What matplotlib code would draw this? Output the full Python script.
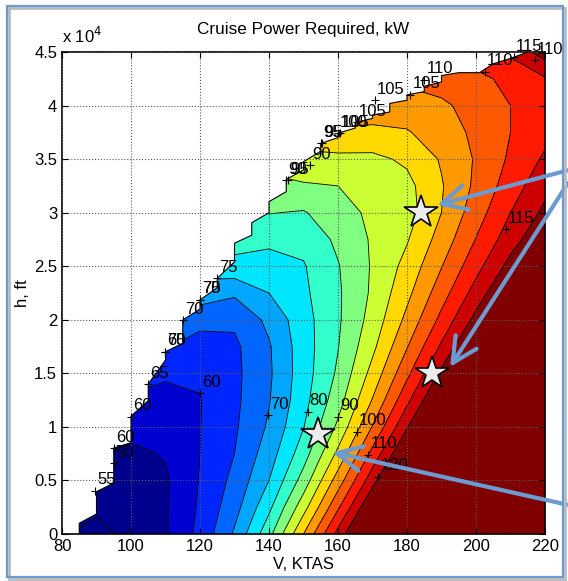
import matplotlib
matplotlib.use('Agg')
import matplotlib.pyplot as plt
from matplotlib.path import Path
from matplotlib.patches import PathPatch, Rectangle
from matplotlib.ticker import FuncFormatter

plt.rcParams['font.family'] = ['Liberation Sans', 'DejaVu Sans']

# grid of cruise power (kW)
speeds = [80, 90, 100, 110, 120, 130, 140, 150, 160, 170, 180, 190, 200, 210, 220]
alts = [0, 2500, 5000, 7500, 10000, 12500, 15000, 17500, 20000, 22500,
        25000, 27500, 30000, 32500, 35000, 37500, 40000, 42500, 45000]
power = [
    [50.5, 48.6, 51.0, 54.5, 61.4, 70.7, 83.4, 100.0, 116.7, 133.0, 151.0, 169.0, 187.0, 205.0, 223.0],
    [52.0, 50.8, 51.5, 54.5, 60.7, 68.1, 78.8, 93.0, 109.2, 125.6, 142.0, 159.0, 176.0, 193.0, 210.0],
    [53.0, 51.5, 52.0, 54.3, 60.3, 66.4, 75.0, 87.1, 102.4, 118.1, 134.0, 150.0, 166.0, 182.0, 198.0],
    [57.0, 55.5, 53.8, 55.4, 60.0, 65.0, 72.6, 82.7, 96.2, 111.6, 126.1, 140.5, 155.0, 169.5, 184.0],
    [60.0, 58.5, 56.8, 57.1, 59.9, 64.3, 70.7, 79.8, 91.0, 105.3, 119.6, 133.5, 147.5, 161.5, 175.5],
    [61.0, 60.0, 59.5, 59.1, 59.8, 63.9, 69.7, 78.3, 87.8, 100.3, 113.8, 126.9, 140.0, 153.0, 166.0],
    [63.0, 62.5, 61.5, 60.4, 60.6, 63.8, 69.2, 77.7, 85.8, 96.7, 108.8, 121.2, 133.0, 145.0, 157.0],
    [66.0, 66.0, 65.5, 65.3, 63.2, 64.0, 69.5, 77.7, 84.8, 93.8, 104.7, 115.8, 127.0, 138.0, 149.0],
    [69.0, 69.5, 70.0, 70.5, 66.3, 65.9, 71.2, 78.1, 84.3, 91.9, 101.3, 111.4, 121.6, 132.0, 142.0],
    [71.0, 71.5, 72.0, 72.5, 73.0, 70.8, 75.0, 79.0, 84.3, 90.8, 98.7, 107.8, 117.1, 126.5, 136.0],
    [74.0, 74.5, 75.0, 75.5, 77.0, 78.5, 77.8, 79.6, 84.7, 90.5, 96.6, 104.8, 113.3, 121.7, 130.0],
    [77.0, 77.5, 78.0, 78.5, 80.0, 82.0, 81.2, 81.5, 86.0, 90.6, 94.6, 102.1, 110.2, 117.8, 124.5],
    [80.0, 80.5, 81.0, 81.5, 82.5, 84.0, 85.2, 84.6, 88.0, 91.0, 92.8, 100.0, 107.7, 115.0, 121.2],
    [82.0, 82.5, 83.0, 84.0, 85.0, 86.5, 88.5, 89.4, 90.0, 92.2, 93.5, 99.6, 106.0, 112.5, 118.5],
    [86.0, 86.5, 87.0, 88.0, 89.0, 90.5, 92.0, 93.8, 93.7, 93.8, 95.9, 100.5, 105.5, 110.8, 115.8],
    [90.0, 90.5, 91.0, 92.0, 93.0, 94.5, 96.0, 97.5, 99.4, 98.8, 99.6, 102.6, 106.0, 110.0, 113.5],
    [94.0, 94.5, 95.0, 96.0, 97.0, 98.5, 100.0, 101.5, 102.5, 103.0, 102.8, 104.2, 106.7, 110.0, 113.0],
    [97.0, 97.5, 98.0, 99.0, 100.0, 101.0, 102.0, 103.0, 104.0, 105.0, 106.0, 107.0, 108.8, 111.2, 114.5],
    [100.0, 100.5, 101.0, 102.0, 103.0, 104.0, 105.0, 106.0, 107.0, 108.0, 109.0, 110.5, 112.5, 116.0, 122.5],
]
levels = [50, 55, 60, 65, 70, 75, 80, 85, 90, 95, 100, 105, 110, 115, 120]
band_colors = ['#00008A', '#00008F', '#0000D0', '#0026FF', '#0066FF', '#00A6FF',
               '#00E6FF', '#33FFCC', '#80FF80', '#CCFF33', '#FFD900', '#FF9900',
               '#FF5900', '#FF1A00', '#CC0000', '#800000']

# flight envelope edge (left / top)
env_v = [85, 85, 90, 90, 95, 95, 100, 100, 105, 105, 110, 110, 115, 115, 120, 120,
         125, 125, 130, 130, 135, 135, 140, 140, 145, 145, 150, 150, 155, 155, 160, 160,
         165, 165, 170, 170, 175, 175, 180, 180, 185, 185, 190, 190, 195, 201, 205, 210, 215]
env_h = [0, 1000, 1870, 3950, 4760, 8030, 8520, 11000, 12450, 14000, 16240, 17020, 17800, 19980,
         21000, 21850, 23000, 23870, 25400, 27150, 27900, 29060, 30000, 31030, 31960, 33110,
         33980, 34760, 35740, 36470, 37000, 37420, 37900, 38400, 38800, 39100, 39400, 40200,
         40500, 41000, 41300, 41800, 42200, 42800, 43070, 43070, 43900, 44400, 45000]

# contour labels
lab_v = [89.7, 95, 95, 100, 105, 110, 110, 115, 120, 120, 125, 120, 139.8, 151.2, 160.1,
         165.4, 168.8, 171.7, 208.7, 145, 145.5, 151.8, 155, 155.5, 160, 160.5, 165.5,
         170.7, 181, 185, 202.6, 211, 217]
lab_h = [4040, 8000, 6600, 10950, 14000, 17020, 17020, 19980, 21850, 21850, 23870, 13130,
         11100, 11420, 10960, 9560, 7380, 5350, 28450, 33050, 33050, 34440, 36470, 36470,
         37420, 37420, 38460, 40500, 41000, 42400, 43170, 44500, 44250]
lab_txt = ['55', '60', '50', '60', '65', '65', '70', '70', '75', '70', '75', '60', '70', '80',
           '90', '100', '110', '120', '115', '90', '95', '90', '95', '95', '100', '105', '105',
           '105', '105', '110', '110', '115', '110']

# design points and callout arrows
star_v = [154.2, 187.2, 184.0]
star_h = [9330, 15030, 30060]
tip_v = [188.7, 192.5, 158.3]
tip_h = [30700, 15600, 7650]
tail_y = [0.707, 0.685, 0.131]

fig = plt.figure(figsize=(5.68, 5.81), dpi=100)
ax = fig.add_axes([62 / 568, 47 / 581, 483 / 568, 482 / 581])

clip_verts = list(zip(env_v, env_h)) + [(220, 45000), (225, 45000), (225, -100), (85, -100), (85, 0)]
clip = PathPatch(Path(clip_verts), transform=ax.transData, facecolor='none', edgecolor='none')
ax.add_patch(clip)

cf = ax.contourf(speeds, alts, power, levels=[0] + levels + [1000], colors=band_colors)
cf.set_clip_path(clip)
cl = ax.contour(speeds, alts, power, levels=levels, colors='k', linewidths=0.6)
cl.set_clip_path(clip)
ax.plot(env_v, env_h, color='k', lw=0.8, zorder=3)

for v, h, t in zip(lab_v, lab_h, lab_txt):
    ax.plot(v, h, '+', color='k', ms=6, mew=0.8, zorder=4)
    ax.annotate(t, (v, h), xytext=(1.5, 2.5), textcoords='offset points',
                ha='left', va='bottom', fontsize=12, zorder=4)

ax.plot(star_v, star_h, '*', ms=25, mfc='#ECECEC', mec='k', mew=1.2, ls='none', zorder=5)

for tv, th, ty in zip(tip_v, tip_h, tail_y):
    ax.annotate('', xy=(tv, th), xycoords='data', xytext=(1.0, ty), textcoords='figure fraction',
                arrowprops=dict(arrowstyle='->, head_length=0.9, head_width=0.45',
                                color='#6C9BD2', lw=3, mutation_scale=20, shrinkA=0, shrinkB=0),
                annotation_clip=False, zorder=6)

ax.set_xlim(80, 220)
ax.set_ylim(0, 45000)
ax.set_xticks(range(80, 221, 20))
ax.set_yticks(range(0, 45001, 5000))
ax.yaxis.set_major_formatter(FuncFormatter(lambda y, p: '%g' % (y / 1e4)))
ax.tick_params(direction='in', top=True, right=True, length=4, width=0.8,
               labelsize=12, pad=3.5)
ax.set_axisbelow(False)
ax.grid(True, color='0.35', ls=':', lw=0.8)
for s in ax.spines.values():
    s.set_linewidth(1.2)

ax.text(0, 1.012, 'x 10$^{4}$', transform=ax.transAxes, ha='left', va='bottom', fontsize=12)
ax.set_title('Cruise Power Required, kW', fontsize=12.3, pad=13)
ax.set_xlabel('V, KTAS', fontsize=12, labelpad=2)
ax.set_ylabel('h, ft', fontsize=12, labelpad=3)

fig.patches.append(Rectangle((9 / 568, 2 / 581), 556 / 568, 571 / 581, transform=fig.transFigure,
                             fill=False, edgecolor='#BBBBBB', lw=2))
fig.patches.append(Rectangle((7 / 568, 4 / 581), 556 / 568, 571 / 581, transform=fig.transFigure,
                             fill=False, edgecolor='#6C9BD2', lw=1.6))

plt.savefig('out.png', dpi=100)
